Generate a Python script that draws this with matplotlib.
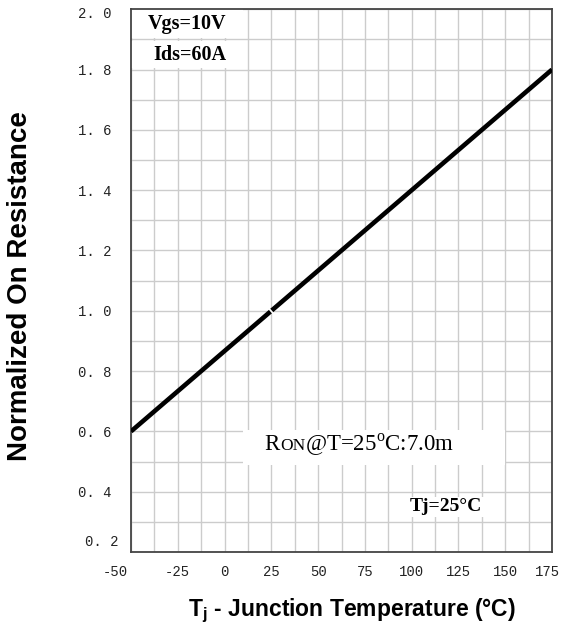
import numpy as np
import matplotlib
matplotlib.use("Agg")
import matplotlib.pyplot as plt
import matplotlib.transforms as mtransforms
from matplotlib.patches import Rectangle
from matplotlib.ticker import MultipleLocator

# Normalized on-resistance vs. junction temperature
temps = [-50, 25, 175]
r_norm = [0.6, 1.0, 1.8]

x_ticks = [-50, -25, 0, 25, 50, 75, 100, 125, 150, 175]
y_ticks = [0.2, 0.4, 0.6, 0.8, 1.0, 1.2, 1.4, 1.6, 1.8, 2.0]
x_tick_labels = [str(t) for t in x_ticks]
y_tick_labels = [f"{v:.1f}".replace(".", ". ") for v in y_ticks]

plt.rcParams["mathtext.fontset"] = "custom"
plt.rcParams["mathtext.rm"] = "Liberation Serif"
plt.rcParams["mathtext.bf"] = "Liberation Sans:bold"

W, H = 563, 633
fig = plt.figure(figsize=(W / 100, H / 100), dpi=100)
ax = fig.add_axes([131 / W, 1 - 552 / H, (552 - 131) / W, (552 - 9.3) / H])

ax.set_xlim(-50, 175)
ax.set_ylim(0.2, 2.0)
ax.set_xticks(x_ticks)
ax.set_yticks(y_ticks)
ax.xaxis.set_minor_locator(MultipleLocator(12.5))
ax.yaxis.set_minor_locator(MultipleLocator(0.1))
ax.set_xticklabels(x_tick_labels)
ax.set_yticklabels(y_tick_labels)
ax.tick_params(which="both", length=0)
ax.tick_params(axis="x", pad=9)
ax.tick_params(axis="y", pad=14)
for lab in ax.get_xticklabels() + ax.get_yticklabels():
    lab.set_fontfamily("Liberation Mono")
    lab.set_fontsize(10)
    lab.set_color("#222222")

# nudge the end labels inward
def shift(label, dx, dy):
    label.set_transform(label.get_transform()
                        + mtransforms.ScaledTranslation(dx / 100, dy / 100, fig.dpi_scale_trans))

xl = ax.get_xticklabels()
xl[0].set_ha("right")
shift(xl[0], -3, 0)
shift(xl[-1], -5, 0)
yl = ax.get_yticklabels()
shift(yl[0], 7, 11)
shift(yl[-1], 0, -3)

ax.grid(which="both", color="#cccccc", lw=1.0)
ax.set_axisbelow(True)
for sp in ax.spines.values():
    sp.set_color("#444444")
    sp.set_linewidth(1.3)

# curve
ax.plot(temps, r_norm, color="black", lw=3.3, solid_capstyle="butt", zorder=3)
ax.plot(temps[1], r_norm[1], marker=(2, 0, 41), ms=8, mec="white", mew=1.3,
        linestyle="none", zorder=4)

# white backgrounds behind the annotations
ax.add_patch(Rectangle((-50, 1.904), 60, 0.096, fc="white", ec="none", zorder=2))
ax.add_patch(Rectangle((-50, 1.804), 60, 0.092, fc="white", ec="none", zorder=2))
ax.add_patch(Rectangle((10, 0.49), 140, 0.115, fc="white", ec="none", zorder=2))

serif_bold = dict(fontfamily="Liberation Serif", fontweight="bold", color="black")
ax.text(-20, 1.95, "Vgs=10V", ha="center", va="center", fontsize=14.5, zorder=5, **serif_bold)
ax.text(-18.5, 1.85, "Ids=60A", ha="center", va="center", fontsize=14.5, zorder=5, **serif_bold)
ax.text(118.5, 0.35, "Tj=25°C", ha="center", va="center", fontsize=14, zorder=5,
        bbox=dict(fc="white", ec="none", pad=1), **serif_bold)

# R_ON note with small-caps "ON"
renderer = fig.canvas.get_renderer()
offset = 0.0
for piece, size in [("R", 16.5), ("ON", 12.5), (r"@T=25$^{\mathrm{o}}$C:7.0m", 16.5)]:
    t = ax.annotate(piece, xy=(21.5, 0.537), xycoords="data", xytext=(offset, 0),
                    textcoords="offset pixels", ha="left", va="baseline",
                    fontsize=size, fontfamily="Liberation Serif", color="black", zorder=5)
    offset += t.get_window_extent(renderer).width

fig.text(20 / W, 1 - 286 / H, "Normalized On Resistance", rotation=90,
         ha="center", va="center", fontsize=20, fontfamily="Liberation Sans",
         fontweight="bold")
fig.text(352 / W, 1 - 611 / H, r"T$_\mathbf{j}$ - Junction Temperature (°C)",
         ha="center", va="center", fontsize=16.5, fontfamily="Liberation Sans",
         fontweight="bold")

fig.savefig("out.png", dpi=100, facecolor="white")
